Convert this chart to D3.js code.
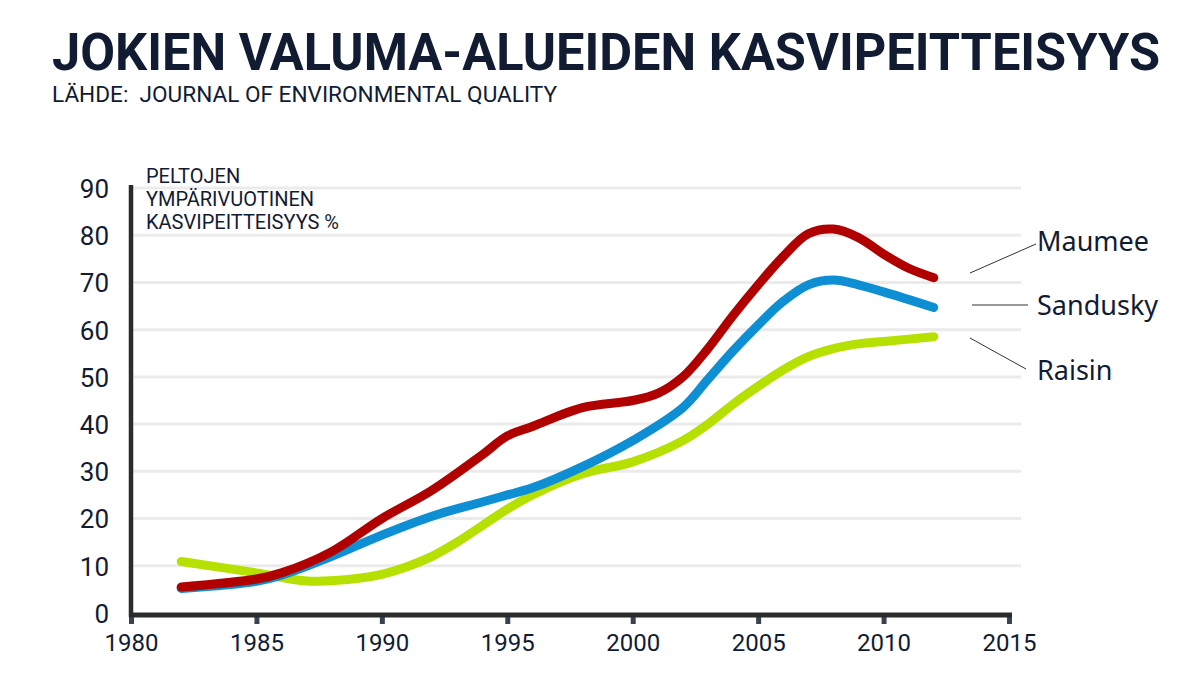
<!DOCTYPE html>
<html lang="fi">
<head>
<meta charset="UTF-8">
<title>Jokien valuma-alueiden kasvipeitteisyys</title>
<style>
  body { margin: 0; background: #fff; }
  svg { display: block; }
</style>
</head>
<body>
<script src="https://d3js.org/d3.v7.min.js"></script>
<script>
// data
var years = {
  maumee:   [1982, 1985, 1986, 1988, 1990, 1992, 1994, 1995, 1996, 1998, 2000, 2001, 2002, 2003, 2004, 2005, 2006, 2007, 2008, 2009, 2010, 2011, 2012],
  sandusky: [1982, 1985, 1986, 1988, 1990, 1992, 1994, 1995, 1996, 1998, 2000, 2002, 2003, 2004, 2005, 2006, 2007, 2008, 2009, 2010, 2012],
  raisin:   [1982, 1985, 1987, 1989, 1990, 1991, 1992, 1993, 1995, 1996, 1998, 2000, 2002, 2003, 2004, 2005, 2006, 2007, 2008, 2009, 2010, 2012]
};
var maumee   = [5.5, 7.2, 8.5, 13, 20, 26, 33.5, 37.5, 39.5, 43.5, 45, 46.5, 50, 56, 63, 69.5, 75.5, 80.3, 81.3, 79.5, 76, 73, 71];
var sandusky = [5.2, 6.7, 8, 12, 16.5, 20.5, 23.5, 25, 26.5, 31, 36.5, 43.5, 49.5, 55.5, 61, 66, 69.5, 70.5, 69.5, 68, 64.7];
var raisin   = [10.9, 8.5, 6.8, 7.3, 8.2, 9.8, 12, 15, 22, 25, 29.5, 32, 36.5, 40, 44.2, 48, 51.5, 54.3, 56, 57, 57.5, 58.5];

var seriesNames = ["Maumee", "Sandusky", "Raisin"];
var xTicks = [1980, 1985, 1990, 1995, 2000, 2005, 2010, 2015];
var yTicks = [0, 10, 20, 30, 40, 50, 60, 70, 80, 90];

var W = 1199, H = 675;
var svg = d3.select("body").append("svg")
    .attr("width", W)
    .attr("height", H);

// title + source
svg.append("text")
    .attr("x", 52).attr("y", 70)
    .attr("textLength", 1108).attr("lengthAdjust", "spacingAndGlyphs")
    .style("font-family", "Roboto").style("font-weight", 700)
    .style("font-size", "52px").style("fill", "#111c33")
    .text("JOKIEN VALUMA-ALUEIDEN KASVIPEITTEISYYS");

svg.append("text")
    .attr("x", 52).attr("y", 102)
    .attr("textLength", 505).attr("lengthAdjust", "spacingAndGlyphs")
    .style("font-family", "Roboto")
    .style("font-size", "22px").style("fill", "#111c33")
    .style("white-space", "pre")
    .text("LÄHDE:  JOURNAL OF ENVIRONMENTAL QUALITY");

var x = d3.scaleLinear().domain([1980, 2015]).range([131, 1009]);
var y = d3.scaleLinear().domain([0, 90]).range([613, 188]);

// gridlines
svg.append("g").selectAll("line")
    .data(yTicks.filter(function(d) { return d > 0; }))
    .enter().append("line")
    .attr("x1", 133).attr("x2", 1021)
    .attr("y1", function(d) { return y(d); })
    .attr("y2", function(d) { return y(d); })
    .style("stroke", "#ebebeb").style("stroke-width", 3);

// y label
var ylab = svg.append("text")
    .style("font-family", "Roboto").style("font-size", "20px")
    .style("fill", "#111c33");
["PELTOJEN", "YMPÄRIVUOTINEN", "KASVIPEITTEISYYS %"].forEach(function(t, i) {
  ylab.append("tspan").attr("x", 146).attr("y", 182.5 + i * 23).text(t);
});

// y axis
var yAxis = svg.append("g")
    .attr("transform", "translate(131,0)")
    .call(d3.axisLeft(y).tickValues(yTicks).tickSize(0).tickPadding(22));
yAxis.select(".domain").remove();
yAxis.selectAll("text")
    .style("font-family", "Roboto").style("font-size", "26px")
    .style("fill", "#111c33").attr("dy", "0.36em");
svg.append("line")
    .attr("x1", 131).attr("x2", 131).attr("y1", 185).attr("y2", 617)
    .style("stroke", "#2b2b2b").style("stroke-width", 4.5);

// x axis
var xAxis = svg.append("g")
    .attr("transform", "translate(0,615)")
    .call(d3.axisBottom(x).tickValues(xTicks).tickFormat(d3.format("d")).tickSize(9).tickPadding(10));
xAxis.select(".domain").remove();
xAxis.selectAll(".tick line")
    .style("stroke", "#3a4255").style("stroke-width", 5);
xAxis.selectAll("text")
    .style("font-family", "Roboto").style("font-size", "24px")
    .style("fill", "#111c33");
svg.append("line")
    .attr("x1", 129).attr("x2", 1012).attr("y1", 615).attr("y2", 615)
    .style("stroke", "#2b2b2b").style("stroke-width", 5);

// lines
var line = d3.line()
    .x(function(d) { return x(d[0]); })
    .y(function(d) { return y(d[1]); })
    .curve(d3.curveCatmullRom.alpha(0.5));

var series = [
  { name: "Raisin", yrs: years.raisin, vals: raisin, color: "#b5e000" },
  { name: "Sandusky", yrs: years.sandusky, vals: sandusky, color: "#0e8fd4" },
  { name: "Maumee", yrs: years.maumee, vals: maumee, color: "#b00000" }
];

svg.append("g").selectAll("path")
    .data(series)
    .enter().append("path")
    .attr("d", function(s) { return line(d3.zip(s.yrs, s.vals)); })
    .style("fill", "none")
    .style("stroke", function(s) { return s.color; })
    .style("stroke-width", 9)
    .style("stroke-linecap", "round")
    .style("stroke-linejoin", "round");

// labels with leader lines
var labelY = [251, 315, 380];
var leaders = [[970, 273, 1036, 244], [972, 305, 1028, 305], [970, 338, 1026, 369]];

svg.append("g").selectAll("line")
    .data(leaders)
    .enter().append("line")
    .attr("x1", function(d) { return d[0]; }).attr("y1", function(d) { return d[1]; })
    .attr("x2", function(d) { return d[2]; }).attr("y2", function(d) { return d[3]; })
    .style("stroke", "#333").style("stroke-width", 1);

svg.append("g").selectAll("text")
    .data(seriesNames)
    .enter().append("text")
    .attr("x", 1037)
    .attr("y", function(d, i) { return labelY[i]; })
    .style("font-family", "Noto Sans").style("font-size", "27px")
    .style("fill", "#111c33")
    .text(function(d) { return d; });
</script>
</body>
</html>
